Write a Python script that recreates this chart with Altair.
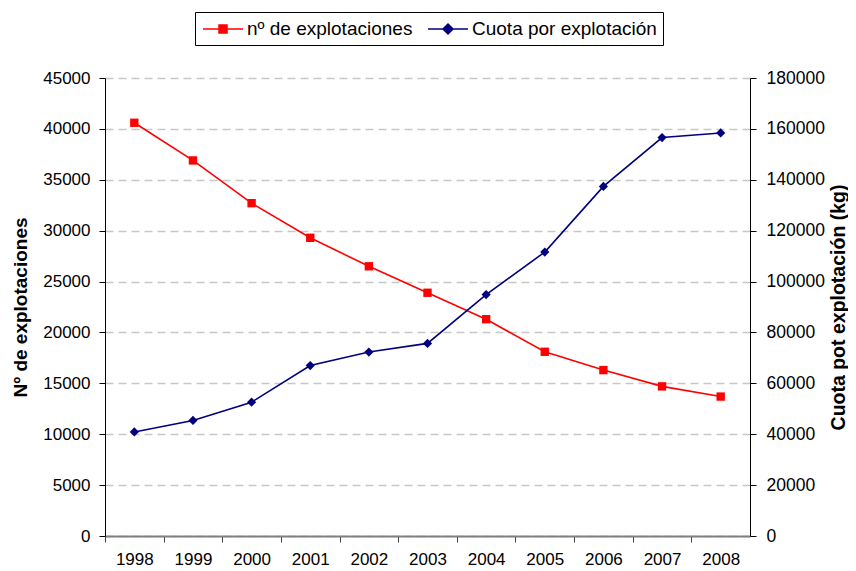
import altair as alt
import pandas as pd

years = ["1998", "1999", "2000", "2001", "2002", "2003", "2004", "2005", "2006", "2007", "2008"]
explotaciones = [40600, 36900, 32700, 29300, 26500, 23900, 21300, 18100, 16300, 14700, 13700]
cuota = [40900, 45400, 52600, 67000, 72300, 75700, 94900, 111600, 137400, 156600, 158400]

series_names = ["nº de explotaciones", "Cuota por explotación"]
series_colors = ["#ff0000", "#000080"]
legend_shapes = [
    "M-2,0H2M-0.4,-0.4H0.4V0.4H-0.4Z",
    "M-2,0H2M0,-0.5L0.5,0L0,0.5L-0.5,0Z",
]

df = pd.DataFrame({"year": years, "expl": explotaciones, "cuota": cuota})
legend_df = pd.DataFrame({"serie": series_names})

W, H = 645, 458
step = W / len(years)
FONT = "Liberation Sans"

x_enc = alt.X(
    "year:O",
    scale=alt.Scale(type="point", padding=0.5),
    axis=alt.Axis(
        title=None,
        labelAngle=0,
        tickOffset=-step / 2,
        labelOffset=step / 2,
        domainColor="#808080",
        domainWidth=2,
        tickColor="#404040",
        tickSize=6,
        labelPadding=9,
        labelFontSize=17,
        labelColor="black",
        grid=False,
    ),
)

red_line = alt.Chart(df).mark_line(color=series_colors[0], strokeWidth=1.6).encode(
    x=x_enc,
    y=alt.Y(
        "expl:Q",
        scale=alt.Scale(domain=[0, 45000]),
        axis=alt.Axis(
            title="Nº de explotaciones",
            values=list(range(0, 45001, 5000)),
            format="d",
            grid=True,
            gridColor="#c8c8c8",
            gridWidth=1.5,
            gridDash=[8, 5],
            domainColor="black",
            tickColor="black",
            tickSize=6,
            labelPadding=9,
            labelFontSize=17,
            labelColor="black",
            titleFontSize=19,
            titleFontWeight="bold",
            titleColor="black",
            titleAngle=270,
            titleBaseline="middle",
            titleAlign="center",
            titleX=-85,
            titleY=H / 2,
        ),
    ),
)
red_pts = alt.Chart(df).mark_point(
    shape="square", filled=True, size=70, color=series_colors[0], opacity=1
).encode(x="year:O", y="expl:Q")

blue_line = alt.Chart(df).mark_line(color=series_colors[1], strokeWidth=1.6).encode(
    x="year:O",
    y=alt.Y(
        "cuota:Q",
        scale=alt.Scale(domain=[0, 180000]),
        axis=alt.Axis(
            title="Cuota pot explotación (kg)",
            orient="right",
            values=list(range(0, 180001, 20000)),
            format="d",
            grid=False,
            domainColor="black",
            tickColor="black",
            tickSize=6,
            labelPadding=10,
            labelFontSize=17.5,
            labelColor="black",
            titleFontSize=19.5,
            titleFontWeight="bold",
            titleColor="black",
            titleAngle=270,
            titleBaseline="middle",
            titleAlign="center",
            titleX=88,
            titleY=H / 2,
        ),
    ),
)
blue_pts = alt.Chart(df).mark_point(
    shape="diamond", filled=True, size=85, color=series_colors[1], opacity=1
).encode(x="year:O", y="cuota:Q")

leg = dict(
    title=None,
    orient="none",
    legendX=90,
    legendY=-66,
    direction="horizontal",
    strokeColor="black",
    fillColor="white",
    padding=6,
    labelFontSize=19,
    labelColor="black",
    labelFont=FONT,
    labelLimit=400,
    symbolSize=400,
    symbolOpacity=1,
    symbolStrokeWidth=1.5,
    symbolOffset=11,
    labelOffset=13,
    columnPadding=12,
)

legend_layer = alt.Chart(legend_df).mark_point(
    filled=True, opacity=0, size=400, strokeWidth=1.5
).encode(
    x=alt.value(0),
    y=alt.value(0),
    fill=alt.Fill(
        "serie:N",
        scale=alt.Scale(domain=series_names, range=series_colors),
        legend=alt.Legend(**leg),
    ),
    stroke=alt.Stroke(
        "serie:N",
        scale=alt.Scale(domain=series_names, range=series_colors),
        legend=alt.Legend(**leg),
    ),
    shape=alt.Shape(
        "serie:N",
        scale=alt.Scale(domain=series_names, range=legend_shapes),
        legend=alt.Legend(**leg),
    ),
)

left = alt.layer(red_line, red_pts)
right = alt.layer(blue_line, blue_pts)

chart = (
    alt.layer(left, right, legend_layer)
    .resolve_scale(y="independent")
    .properties(
        width=W,
        height=H,
        autosize=alt.AutoSizeParams(type="none"),
        padding={"left": 97, "top": 70, "right": 98, "bottom": 35},
    )
    .configure(font=FONT)
    .configure_view(stroke=None)
    .configure_axis(labelFont=FONT, titleFont=FONT)
)

chart.save("out.html", embed_options={"renderer": "svg", "actions": False})
